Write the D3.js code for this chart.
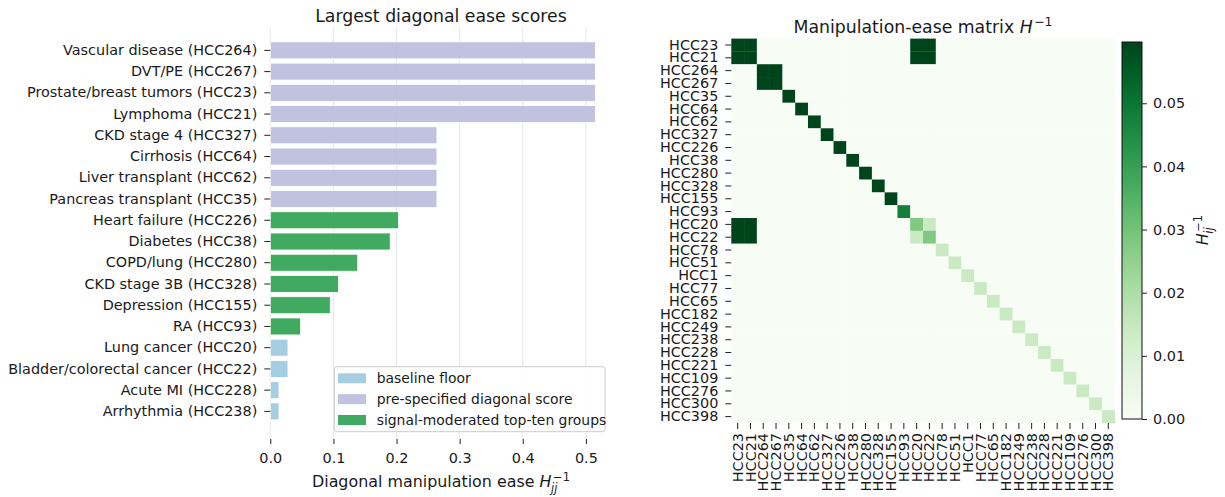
<!DOCTYPE html>
<html><head><meta charset="utf-8">
<script src="https://cdn.jsdelivr.net/npm/d3@7"></script>
<style>
body{margin:0;background:#fff;}
svg text{font-family:"DejaVu Sans",sans-serif;fill:#1a1a1a;}
</style></head>
<body><svg id="c" width="1225" height="497"></svg>
<script>
// ---------- data ----------
const barLabels = ["Vascular disease (HCC264)","DVT/PE (HCC267)","Prostate/breast tumors (HCC23)","Lymphoma (HCC21)",
  "CKD stage 4 (HCC327)","Cirrhosis (HCC64)","Liver transplant (HCC62)","Pancreas transplant (HCC35)",
  "Heart failure (HCC226)","Diabetes (HCC38)","COPD/lung (HCC280)","CKD stage 3B (HCC328)","Depression (HCC155)",
  "RA (HCC93)","Lung cancer (HCC20)","Bladder/colorectal cancer (HCC22)","Acute MI (HCC228)","Arrhythmia (HCC238)"];
const barValues = [0.515,0.515,0.515,0.515,0.264,0.264,0.264,0.264,0.203,0.190,0.1385,0.108,0.095,0.048,0.028,0.028,0.0138,0.0138];
const barGroups = ["pre","pre","pre","pre","pre","pre","pre","pre","sig","sig","sig","sig","sig","sig","base","base","base","base"];
const legendKeys = ["base","pre","sig"];
const legendLabels = ["baseline floor","pre-specified diagonal score","signal-moderated top-ten groups"];
const groupColors = {base:"#9ecae1", pre:"#bcbddc", sig:"#31a354"};
const xTicks = [0,0.1,0.2,0.3,0.4,0.5];

const hccCodes = ["HCC23","HCC21","HCC264","HCC267","HCC35","HCC64","HCC62","HCC327","HCC226","HCC38","HCC280","HCC328",
  "HCC155","HCC93","HCC20","HCC22","HCC78","HCC51","HCC1","HCC77","HCC65","HCC182","HCC249","HCC238","HCC228","HCC221",
  "HCC109","HCC276","HCC300","HCC398"];
const diagValues = [0.515,0.515,0.515,0.515,0.264,0.264,0.264,0.264,0.203,0.190,0.1385,0.108,0.095,0.048,0.028,0.028,
  0.014,0.014,0.014,0.014,0.014,0.014,0.014,0.014,0.014,0.014,0.014,0.014,0.014,0.014];
const offDiagEntries = [
  ["HCC23","HCC21",0.5],["HCC21","HCC23",0.5],["HCC264","HCC267",0.5],["HCC267","HCC264",0.5],
  ["HCC23","HCC20",0.25],["HCC23","HCC22",0.25],["HCC21","HCC20",0.25],["HCC21","HCC22",0.25],
  ["HCC20","HCC23",0.25],["HCC20","HCC21",0.25],["HCC22","HCC23",0.25],["HCC22","HCC21",0.25],
  ["HCC20","HCC22",0.014],["HCC22","HCC20",0.014]];
const colorMax = 0.0597;
const cbarTicks = [0,0.01,0.02,0.03,0.04,0.05];

// ---------- helpers ----------
const svg = d3.select("#c");
const FS = 14.4, FL = 15.9, FT = 17.3, FLEG = 13.9;
function mathH(parent, pre, sub, sup, size){
  const g = parent.append("g");
  const t = g.append("text").attr("font-size", size);
  if (pre) t.append("tspan").text(pre);
  t.append("tspan").attr("font-style","italic").text("H");
  const w = t.node().getComputedTextLength();
  if (sup) g.append("text").attr("x", w+1.5).attr("y", -size*0.40).attr("font-size", size*0.72).text(sup);
  if (sub) g.append("text").attr("x", w-0.5).attr("y", size*0.33).attr("font-size", size*0.72).attr("font-style","italic").text(sub);
  return g;
}
function centerH(g, cx){
  const b = g.node().getBBox();
  g.attr("transform", `translate(${cx - b.x - b.width/2},0)`);
}

// ---------- left bar chart ----------
const xL0 = 270.3, xL1 = 611.6, yT = 27, yB = 439;
const x = d3.scaleLinear().domain([0, d3.max(barValues)*1.05]).range([xL0, xL1]);
const yIdx = d3.scaleLinear().domain([-1.1, barLabels.length + 0.3]).range([yT, yB]);
const y = d3.scaleBand().domain(barLabels).range([yIdx(-0.5), yIdx(barLabels.length-0.5)]).paddingInner(0.2).paddingOuter(0.1);

const left = svg.append("g");
left.append("g").selectAll("line").data(xTicks).join("line")
  .attr("x1", d=>x(d)).attr("x2", d=>x(d)).attr("y1", yT).attr("y2", yB)
  .attr("stroke", "#e6e6e6").attr("stroke-width", 1);

left.append("g").selectAll("rect").data(barLabels).join("rect")
  .attr("x", x(0)).attr("y", d=>y(d))
  .attr("width", (d,i)=>x(barValues[i]) - x(0)).attr("height", y.bandwidth())
  .attr("fill", (d,i)=>groupColors[barGroups[i]]).attr("fill-opacity", 0.92)
  .attr("stroke", "#fff").attr("stroke-width", 0.8);

const xAxis = left.append("g").attr("transform", `translate(0,${yB})`)
  .call(d3.axisBottom(x).tickValues(xTicks).tickFormat(d3.format(".1f")).tickSize(5).tickPadding(9));
xAxis.select(".domain").remove();
xAxis.selectAll("text").attr("font-size", FS).attr("font-family", null);
xAxis.selectAll("line").attr("stroke", "#222");

const yAxis = left.append("g").attr("transform", `translate(${xL0},0)`)
  .call(d3.axisLeft(y).tickSize(6).tickPadding(7));
yAxis.select(".domain").remove();
yAxis.selectAll("text").attr("font-size", FS).attr("font-family", null);
yAxis.selectAll("line").attr("stroke", "#222");

left.append("text").attr("x", (xL0+xL1)/2).attr("y", 21.5).attr("text-anchor","middle")
  .attr("font-size", FT).text("Largest diagonal ease scores");

const xl = left.append("g").attr("transform", "translate(0,487)");
const xlInner = mathH(xl, "Diagonal manipulation ease ", "jj", "\u22121", FL);
centerH(xlInner, (xL0+xL1)/2);

// legend
const lg = left.append("g");
lg.append("rect").attr("x", 334.3).attr("y", 366.7).attr("width", 270.7).attr("height", 65).attr("rx", 3)
  .attr("fill", "#fff").attr("fill-opacity", 0.85).attr("stroke", "#cccccc").attr("stroke-width", 1);
const lrow = d3.scaleLinear().domain([0,2]).range([378.3, 420]);
legendKeys.forEach((k,i)=>{
  lg.append("rect").attr("x", 338).attr("y", lrow(i)-5).attr("width", 28).attr("height", 10)
    .attr("fill", groupColors[k]).attr("fill-opacity", 0.92);
  lg.append("text").attr("x", 376.7).attr("y", lrow(i)).attr("dy", "0.35em").attr("font-size", FLEG).text(legendLabels[i]);
});

// ---------- right heatmap ----------
const hx0 = 731.3, hx1 = 1114.7, hy0 = 38.6, hy1 = 423;
const hx = d3.scaleBand().domain(hccCodes).range([hx0, hx1]);
const hy = d3.scaleBand().domain(hccCodes).range([hy0, hy1]);
const color = v => d3.interpolateGreens(Math.max(0, Math.min(1, v/colorMax)));

const valMap = new Map();
hccCodes.forEach((c,i)=>valMap.set(c+"|"+c, diagValues[i]));
offDiagEntries.forEach(([r,c,v])=>valMap.set(r+"|"+c, v));
const cells = [];
hccCodes.forEach(r=>hccCodes.forEach(c=>cells.push({r, c, v: valMap.get(r+"|"+c) || 0})));

const right = svg.append("g");
right.append("g").selectAll("rect").data(cells).join("rect")
  .attr("x", d=>hx(d.c)).attr("y", d=>hy(d.r))
  .attr("width", hx.bandwidth()+0.3).attr("height", hy.bandwidth()+0.3)
  .attr("fill", d=>color(d.v));

const hyAxis = right.append("g").attr("transform", `translate(${hx0},0)`)
  .call(d3.axisLeft(hy).tickSize(6).tickPadding(7));
hyAxis.select(".domain").remove();
hyAxis.selectAll("text").attr("font-size", FS).attr("font-family", null);
hyAxis.selectAll("line").attr("stroke", "#222");

const hxAxis = right.append("g").attr("transform", `translate(0,${hy1})`)
  .call(d3.axisBottom(hx).tickSize(6).tickPadding(7));
hxAxis.select(".domain").remove();
hxAxis.selectAll("line").attr("stroke", "#222");
hxAxis.selectAll("text").attr("font-size", FS).attr("font-family", null)
  .attr("transform", "rotate(-90)").attr("text-anchor", "end")
  .attr("x", -10).attr("y", 0).attr("dy", "0.35em");

const ht = right.append("g").attr("transform", "translate(0,33)");
const htInner = mathH(ht, "Manipulation-ease matrix ", null, "\u22121", FT);
centerH(htInner, (hx0+hx1)/2);

// colorbar
const cb0 = 1122, cb1 = 1142, cbT = 42, cbB = 419;
const cy = d3.scaleLinear().domain([0, colorMax]).range([cbB, cbT]);
const defs = svg.append("defs");
const grad = defs.append("linearGradient").attr("id","gr").attr("x1",0).attr("y1",1).attr("x2",0).attr("y2",0);
d3.range(0, 1.0001, 0.05).forEach(t=>grad.append("stop").attr("offset", t).attr("stop-color", d3.interpolateGreens(t)));
right.append("rect").attr("x", cb0).attr("y", cbT).attr("width", cb1-cb0).attr("height", cbB-cbT)
  .attr("fill", "url(#gr)").attr("stroke", "#111").attr("stroke-width", 1);
const cAxis = right.append("g").attr("transform", `translate(${cb1},0)`)
  .call(d3.axisRight(cy).tickValues(cbarTicks).tickFormat(d3.format(".2f")).tickSize(5).tickPadding(6));
cAxis.select(".domain").remove();
cAxis.selectAll("text").attr("font-size", FS).attr("font-family", null);
cAxis.selectAll("line").attr("stroke", "#222");

const cl = right.append("g").attr("transform", "translate(1208,230) rotate(-90)");
const clInner = mathH(cl, null, "ij", "\u22121", FL);
centerH(clInner, 0);
</script></body></html>
